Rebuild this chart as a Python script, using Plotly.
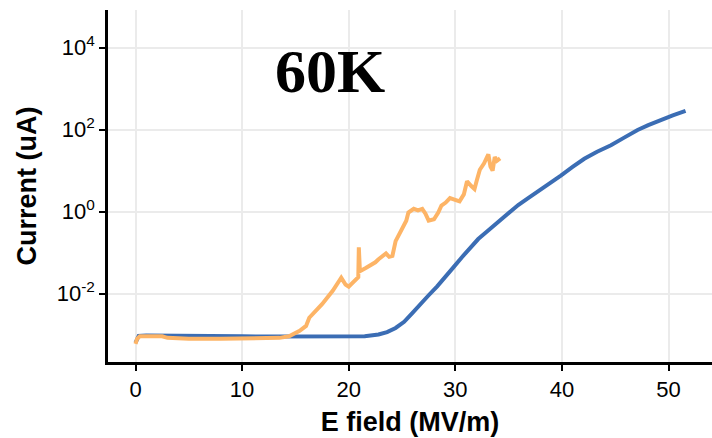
import plotly.graph_objects as go

# Sample at 60 K: current (uA) versus applied field (MV/m)
field_blue = [0, 0.3, 1, 2, 3, 5, 7, 10, 12, 15, 18, 20, 21.5, 22.8, 23.6, 24.4,
              25.2, 25.9, 26.7, 27.5, 28.3, 29.05, 29.8, 30.6, 31.4, 32.15, 33.0,
              33.7, 34.8, 35.9, 36.8, 37.7, 38.8, 39.9, 41.0, 42.1, 43.3, 44.6,
              45.8, 47.1, 48.1, 49.2, 50.4, 51.6]
current_blue = [6.3e-4, 9.3e-4, 9.5e-4, 9.5e-4, 9.3e-4, 9.1e-4, 9.1e-4, 9.1e-4,
                8.9e-4, 8.9e-4, 8.9e-4, 8.9e-4, 9.1e-4, 1.0e-3, 1.15e-3, 1.45e-3,
                2.05e-3, 3.2e-3, 5.2e-3, 9.1e-3, 1.5e-2, 2.45e-2, 4.3e-2, 7.6e-2,
                0.129, 0.214, 0.33, 0.47, 0.85, 1.45, 2.1, 3.0, 4.8, 7.6, 12.3,
                19.5, 28.8, 41.7, 63, 98, 129, 170, 224, 288]

field_orange = [0, 0.15, 0.4, 1.5, 2.5, 3.0, 5, 8, 10, 12, 13.5, 14.4, 15.4, 16.0,
                16.3, 17.5, 18.5, 19.3, 19.7, 20.0, 20.7, 20.9, 20.95, 21.05, 21.6,
                22.5, 22.8, 23.5, 23.8, 24.1, 24.4, 25.0, 25.4, 25.6, 26.1, 26.5,
                26.9, 27.2, 27.5, 28.0, 28.4, 28.7, 29.1, 29.5, 30.0, 30.4, 30.8,
                31.1, 31.5, 31.8, 32.0, 32.3, 32.7, 33.1, 33.3, 33.5, 33.7, 33.9, 34.2]
current_orange = [5.9e-4, 7.9e-4, 9.1e-4, 8.9e-4, 9.1e-4, 8.3e-4, 7.9e-4, 7.9e-4,
                  8.1e-4, 8.1e-4, 8.3e-4, 9.1e-4, 1.23e-3, 1.62e-3, 2.57e-3, 5.5e-3,
                  1.17e-2, 2.45e-2, 1.66e-2, 1.48e-2, 2.34e-2, 2.5e-2, 0.135, 3.5e-2,
                  4.2e-2, 5.8e-2, 6.9e-2, 9.5e-2, 7.9e-2, 8.3e-2, 0.19, 0.40, 0.60,
                  0.95, 1.17, 1.07, 1.17, 0.89, 0.60, 0.65, 0.95, 1.41, 1.66, 2.14,
                  1.9, 1.78, 2.63, 5.5, 4.2, 3.55, 5.6, 10.5, 15.1, 25.1, 12.6, 10.0,
                  21.4, 17.4, 20.0]

x_ticks = [0, 10, 20, 30, 40, 50]
y_ticks = [1e-2, 1, 1e2, 1e4]
y_tick_text = ["10<sup>-2</sup>", "10<sup>0</sup>", "10<sup>2</sup>", "10<sup>4</sup>"]

fig = go.Figure()
fig.add_trace(go.Scatter(x=field_blue, y=current_blue, mode="lines",
                         line=dict(color="#3b6db4", width=4), showlegend=False))
fig.add_trace(go.Scatter(x=field_orange, y=current_orange, mode="lines",
                         line=dict(color="#fdb466", width=4), showlegend=False))

axis_font = dict(family="Liberation Sans, Arial, sans-serif", size=22, color="black")
title_font = dict(family="Liberation Sans, Arial, sans-serif", size=27, color="black")

left, right, top, bottom = 108, 0, 10, 76
plot_w = 712 - left - right
plot_h = 438 - top - bottom

fig.update_layout(
    width=712, height=438,
    margin=dict(l=left, r=right, t=top, b=bottom),
    paper_bgcolor="white", plot_bgcolor="white",
    xaxis=dict(
        range=[-2.58, 54.08], tickvals=x_ticks, ticks="outside", ticklen=6,
        tickwidth=2, tickcolor="black", showline=True, linecolor="black",
        linewidth=2.5, showgrid=True, gridcolor="#ebebeb", gridwidth=1.5,
        zeroline=False, tickfont=axis_font,
        title=dict(text="<b>E field (MV/m)</b>", font=title_font, standoff=11),
    ),
    yaxis=dict(
        type="log", range=[-3.67, 4.92], tickvals=y_ticks, ticktext=y_tick_text,
        ticks="outside", ticklen=6, tickwidth=2, tickcolor="black",
        showline=True, linecolor="black", linewidth=2.5, showgrid=True,
        gridcolor="#ebebeb", gridwidth=1.5, zeroline=False, tickfont=axis_font,
        title=dict(text="<b>Current (uA)</b>", font=title_font, standoff=13),
    ),
    annotations=[dict(
        text="<b>60K</b>",
        x=(330 - left) / plot_w, y=1 - (35 - top) / plot_h,
        xref="paper", yref="paper", showarrow=False,
        font=dict(family="Liberation Serif, Times New Roman, serif", size=62, color="black"),
    )],
)

fig.write_html("out.html")
